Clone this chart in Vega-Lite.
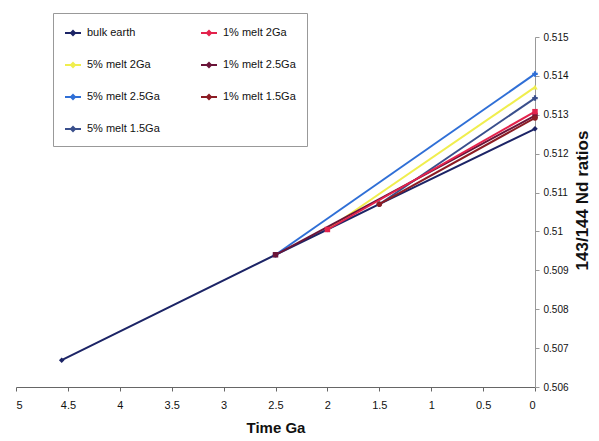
{
  "$schema": "https://vega.github.io/schema/vega-lite/v6.json",
  "autosize": "none",
  "width": 519,
  "height": 350,
  "padding": {"left": 16, "top": 37, "right": 64, "bottom": 54},
  "background": "white",
  "config": {
    "view": {"stroke": null},
    "font": "Liberation Sans"
  },
  "data": {
    "values": [
      {"series": "bulk earth", "t": 4.56, "nd": 0.50669},
      {"series": "bulk earth", "t": 2.5, "nd": 0.5094},
      {"series": "bulk earth", "t": 2.0, "nd": 0.51005},
      {"series": "bulk earth", "t": 1.5, "nd": 0.5107},
      {"series": "bulk earth", "t": 0, "nd": 0.51264},
      {"series": "5% melt 2.5Ga", "t": 2.5, "nd": 0.5094},
      {"series": "5% melt 2.5Ga", "t": 0, "nd": 0.51405},
      {"series": "5% melt 2Ga", "t": 2.0, "nd": 0.51005},
      {"series": "5% melt 2Ga", "t": 0, "nd": 0.51371},
      {"series": "5% melt 1.5Ga", "t": 1.5, "nd": 0.5107},
      {"series": "5% melt 1.5Ga", "t": 0, "nd": 0.51343},
      {"series": "1% melt 2.5Ga", "t": 2.5, "nd": 0.5094},
      {"series": "1% melt 2.5Ga", "t": 0, "nd": 0.51298},
      {"series": "1% melt 1.5Ga", "t": 1.5, "nd": 0.5107},
      {"series": "1% melt 1.5Ga", "t": 0, "nd": 0.51292},
      {"series": "1% melt 2Ga", "t": 2.0, "nd": 0.51005},
      {"series": "1% melt 2Ga", "t": 0, "nd": 0.51308}
    ]
  },
  "encoding": {
    "x": {
      "field": "t", "type": "quantitative",
      "scale": {"domain": [0, 5], "reverse": true, "nice": false, "zero": false},
      "axis": {
        "title": "Time Ga", "values": [0, 0.5, 1, 1.5, 2, 2.5, 3, 3.5, 4, 4.5, 5],
        "format": "~g", "grid": false, "domainColor": "#666", "tickColor": "#666",
        "tickSize": 4, "labelFontSize": 11, "labelColor": "#111", "labelPadding": 8,
        "titleFontSize": 15, "titleFontWeight": "bold", "titleColor": "#111", "titlePadding": 10
      }
    },
    "y": {
      "field": "nd", "type": "quantitative",
      "scale": {"domain": [0.506, 0.515], "nice": false, "zero": false},
      "axis": {
        "orient": "right", "title": "143/144 Nd ratios",
        "values": [0.506, 0.507, 0.508, 0.509, 0.51, 0.511, 0.512, 0.513, 0.514, 0.515],
        "format": ".3~f", "grid": false, "domainColor": "#999", "tickColor": "#999",
        "tickSize": 4, "labelFontSize": 10, "labelColor": "#111", "labelPadding": 4,
        "titleFontSize": 17, "titleFontWeight": "bold", "titleColor": "#111",
        "titleAngle": -90, "titleX": 52, "titleY": 163, "titleAlign": "center", "titleBaseline": "alphabetic"
      }
    },
    "color": {
      "field": "series", "type": "nominal",
      "scale": {
        "domain": ["bulk earth", "1% melt 2Ga", "5% melt 2Ga", "1% melt 2.5Ga", "5% melt 2.5Ga", "1% melt 1.5Ga", "5% melt 1.5Ga"],
        "range": ["#1c2466", "#e3224c", "#f0ee4e", "#6a1438", "#2f6fd6", "#8c1c24", "#3a4f8c"]
      },
      "legend": {
        "title": null, "orient": "none", "legendX": 37, "legendY": -24,
        "columns": 2, "direction": "horizontal",
        "symbolType": "M-1,0H1M-0.25,0L0,-0.25L0.25,0L0,0.25Z",
        "symbolSize": 256, "symbolStrokeWidth": 2,
        "labelFontSize": 11, "labelColor": "#111", "labelOffset": 5,
        "columnPadding": 37, "rowPadding": 17, "padding": 11,
        "strokeColor": "#999", "fillColor": "white", "labelLimit": 200
      }
    }
  },
  "layer": [
    {
      "mark": {"type": "line", "strokeWidth": 2},
      "encoding": {"detail": {"field": "series"}}
    },
    {
      "transform": [{"filter": {"field": "series", "oneOf": ["bulk earth"]}}],
      "mark": {"type": "point", "filled": true, "size": 30, "opacity": 1, "shape": "diamond"}
    },
    {
      "transform": [{"filter": {"field": "series", "oneOf": ["5% melt 2.5Ga", "5% melt 1.5Ga"]}}],
      "mark": {"type": "point", "filled": true, "size": 30, "opacity": 1, "shape": "cross"}
    },
    {
      "transform": [{"filter": {"field": "series", "oneOf": ["5% melt 2Ga"]}}],
      "mark": {"type": "point", "filled": true, "size": 30, "opacity": 1, "shape": "triangle-up"}
    },
    {
      "transform": [{"filter": {"field": "series", "oneOf": ["1% melt 2.5Ga", "1% melt 2Ga"]}}],
      "mark": {"type": "point", "filled": true, "size": 30, "opacity": 1, "shape": "square"}
    },
    {
      "transform": [{"filter": {"field": "series", "oneOf": ["1% melt 1.5Ga"]}}],
      "mark": {"type": "point", "filled": true, "size": 30, "opacity": 1, "shape": "circle"}
    }
  ]
}
